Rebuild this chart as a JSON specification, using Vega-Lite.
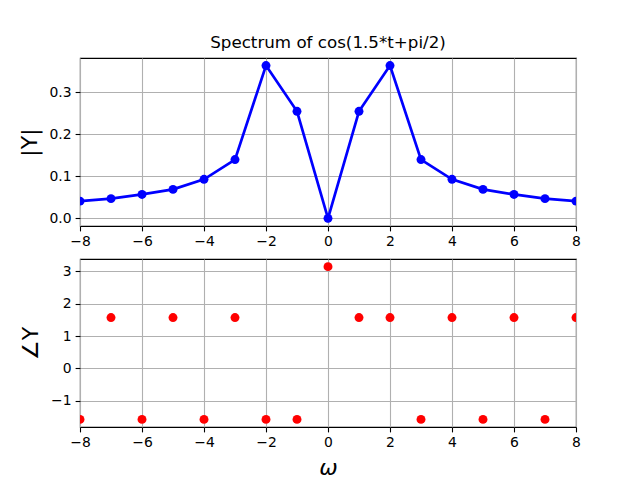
{
  "$schema": "https://vega.github.io/schema/vega-lite/v6.json",
  "background": "white",
  "padding": {"left": 17, "top": 34, "right": 5, "bottom": 5},
  "spacing": 33,
  "bounds": "flush",
  "datasets": {
    "spec": [
      {"w": -8, "mag": 0.041, "phase": -1.5708},
      {"w": -7, "mag": 0.047, "phase": 1.5708},
      {"w": -6, "mag": 0.057, "phase": -1.5708},
      {"w": -5, "mag": 0.069, "phase": 1.5708},
      {"w": -4, "mag": 0.093, "phase": -1.5708},
      {"w": -3, "mag": 0.140, "phase": 1.5708},
      {"w": -2, "mag": 0.364, "phase": -1.5708},
      {"w": -1, "mag": 0.255, "phase": -1.5708},
      {"w": 0, "mag": 0.0, "phase": 3.1416},
      {"w": 1, "mag": 0.255, "phase": 1.5708},
      {"w": 2, "mag": 0.364, "phase": 1.5708},
      {"w": 3, "mag": 0.140, "phase": -1.5708},
      {"w": 4, "mag": 0.093, "phase": 1.5708},
      {"w": 5, "mag": 0.069, "phase": -1.5708},
      {"w": 6, "mag": 0.057, "phase": 1.5708},
      {"w": 7, "mag": 0.047, "phase": -1.5708},
      {"w": 8, "mag": 0.041, "phase": 1.5708}
    ]
  },
  "vconcat": [
    {
      "width": 496,
      "height": 168,
      "title": {"text": "Spectrum of cos(1.5*t+pi/2)", "font": "DejaVu Sans", "fontSize": 16.7, "fontWeight": "normal", "color": "black", "offset": 6, "anchor": "middle"},
      "data": {"name": "spec"},
      "layer": [
        {
          "mark": {"type": "line", "color": "#0000ff", "strokeWidth": 2.7, "clip": true},
          "encoding": {
            "x": {"field": "w", "type": "quantitative", "scale": {"domain": [-8, 8], "nice": false, "zero": false}, "axis": {"values": [-8, -6, -4, -2, 0, 2, 4, 6, 8], "title": null}},
            "y": {"field": "mag", "type": "quantitative", "scale": {"domain": [-0.0182, 0.382], "nice": false, "zero": false}, "axis": {"values": [0, 0.1, 0.2, 0.3], "format": ".1f", "title": "|Y|"}}
          }
        },
        {
          "mark": {"type": "point", "shape": "circle", "filled": true, "opacity": 1, "color": "#0000ff", "size": 80, "clip": true},
          "encoding": {
            "x": {"field": "w", "type": "quantitative"},
            "y": {"field": "mag", "type": "quantitative"}
          }
        }
      ]
    },
    {
      "width": 496,
      "height": 168,
      "data": {"name": "spec"},
      "mark": {"type": "point", "shape": "circle", "filled": true, "opacity": 1, "color": "#ff0000", "size": 80, "clip": true},
      "encoding": {
        "x": {"field": "w", "type": "quantitative", "scale": {"domain": [-8, 8], "nice": false, "zero": false}, "axis": {"values": [-8, -6, -4, -2, 0, 2, 4, 6, 8], "title": "ω", "titleFontStyle": "italic"}},
        "y": {"field": "phase", "type": "quantitative", "scale": {"domain": [-1.806, 3.377], "nice": false, "zero": false}, "axis": {"values": [-1, 0, 1, 2, 3], "format": "d", "title": "∠Y"}}
      }
    }
  ],
  "config": {
    "view": {"stroke": "black", "strokeWidth": 1.1},
    "axis": {
      "domain": false,
      "grid": true,
      "gridColor": "#b0b0b0",
      "gridWidth": 1.1,
      "gridOpacity": 1,
      "tickColor": "black",
      "tickSize": 4.9,
      "tickWidth": 1.1,
      "labelFont": "DejaVu Sans",
      "labelFontSize": 13.9,
      "labelColor": "black",
      "labelPadding": 4,
      "labelFlush": false,
      "labelOverlap": false,
      "titleFont": "DejaVu Sans",
      "titleFontSize": 22,
      "titleFontWeight": "normal",
      "titleColor": "black",
      "titlePadding": 8
    }
  }
}
